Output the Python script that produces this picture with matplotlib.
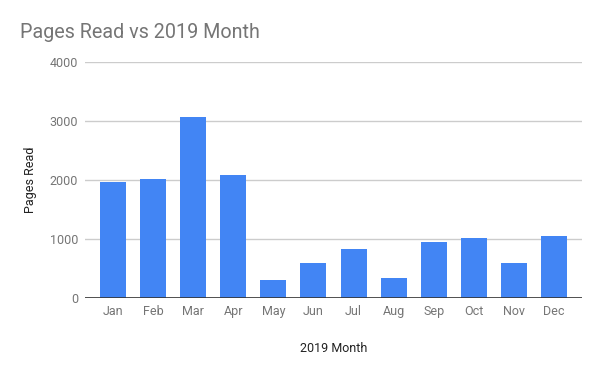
import matplotlib.pyplot as plt
import numpy as np

# Data
months = ["Jan", "Feb", "Mar", "Apr", "May", "Jun",
          "Jul", "Aug", "Sep", "Oct", "Nov", "Dec"]
pages_read = [1970, 2025, 3075, 2090, 310, 600, 835, 345, 955, 1025, 600, 1055]
y_ticks = [0, 1000, 2000, 3000, 4000]

plt.rcParams['font.family'] = ['Roboto', 'DejaVu Sans']

fig = plt.figure(figsize=(6, 3.71), dpi=100)
ax = fig.add_axes([0.1417, 0.1968, 0.8283, 0.6361])

x = np.arange(len(months))
ax.bar(x, pages_read, width=0.65, color='#4285f4', zorder=3)

ax.set_xlim(-0.7, len(months) - 1 + 0.7)
ax.set_ylim(0, 4000)
ax.set_yticks(y_ticks)
ax.set_yticklabels([str(v) for v in y_ticks])
ax.set_xticks(x)
ax.set_xticklabels(months)

ax.grid(axis='y', color='#cccccc', linewidth=1, zorder=0)
ax.axhline(0, color='#333333', linewidth=1.2, zorder=4)
for s in ax.spines.values():
    s.set_visible(False)
ax.tick_params(axis='both', length=0, colors='#757575', labelsize=9)
ax.tick_params(axis='x', pad=5)
ax.tick_params(axis='y', pad=5)

ax.set_xlabel("2019 Month", fontsize=9, color='#222222', labelpad=17)
ax.set_ylabel("Pages Read", fontsize=9, color='#222222', labelpad=9)

fig.text(20 / 600, 1 - 32 / 371, "Pages Read vs 2019 Month", fontsize=14.2,
         color='#757575', va='center', ha='left')

fig.savefig("out.png", dpi=100, facecolor='white')
